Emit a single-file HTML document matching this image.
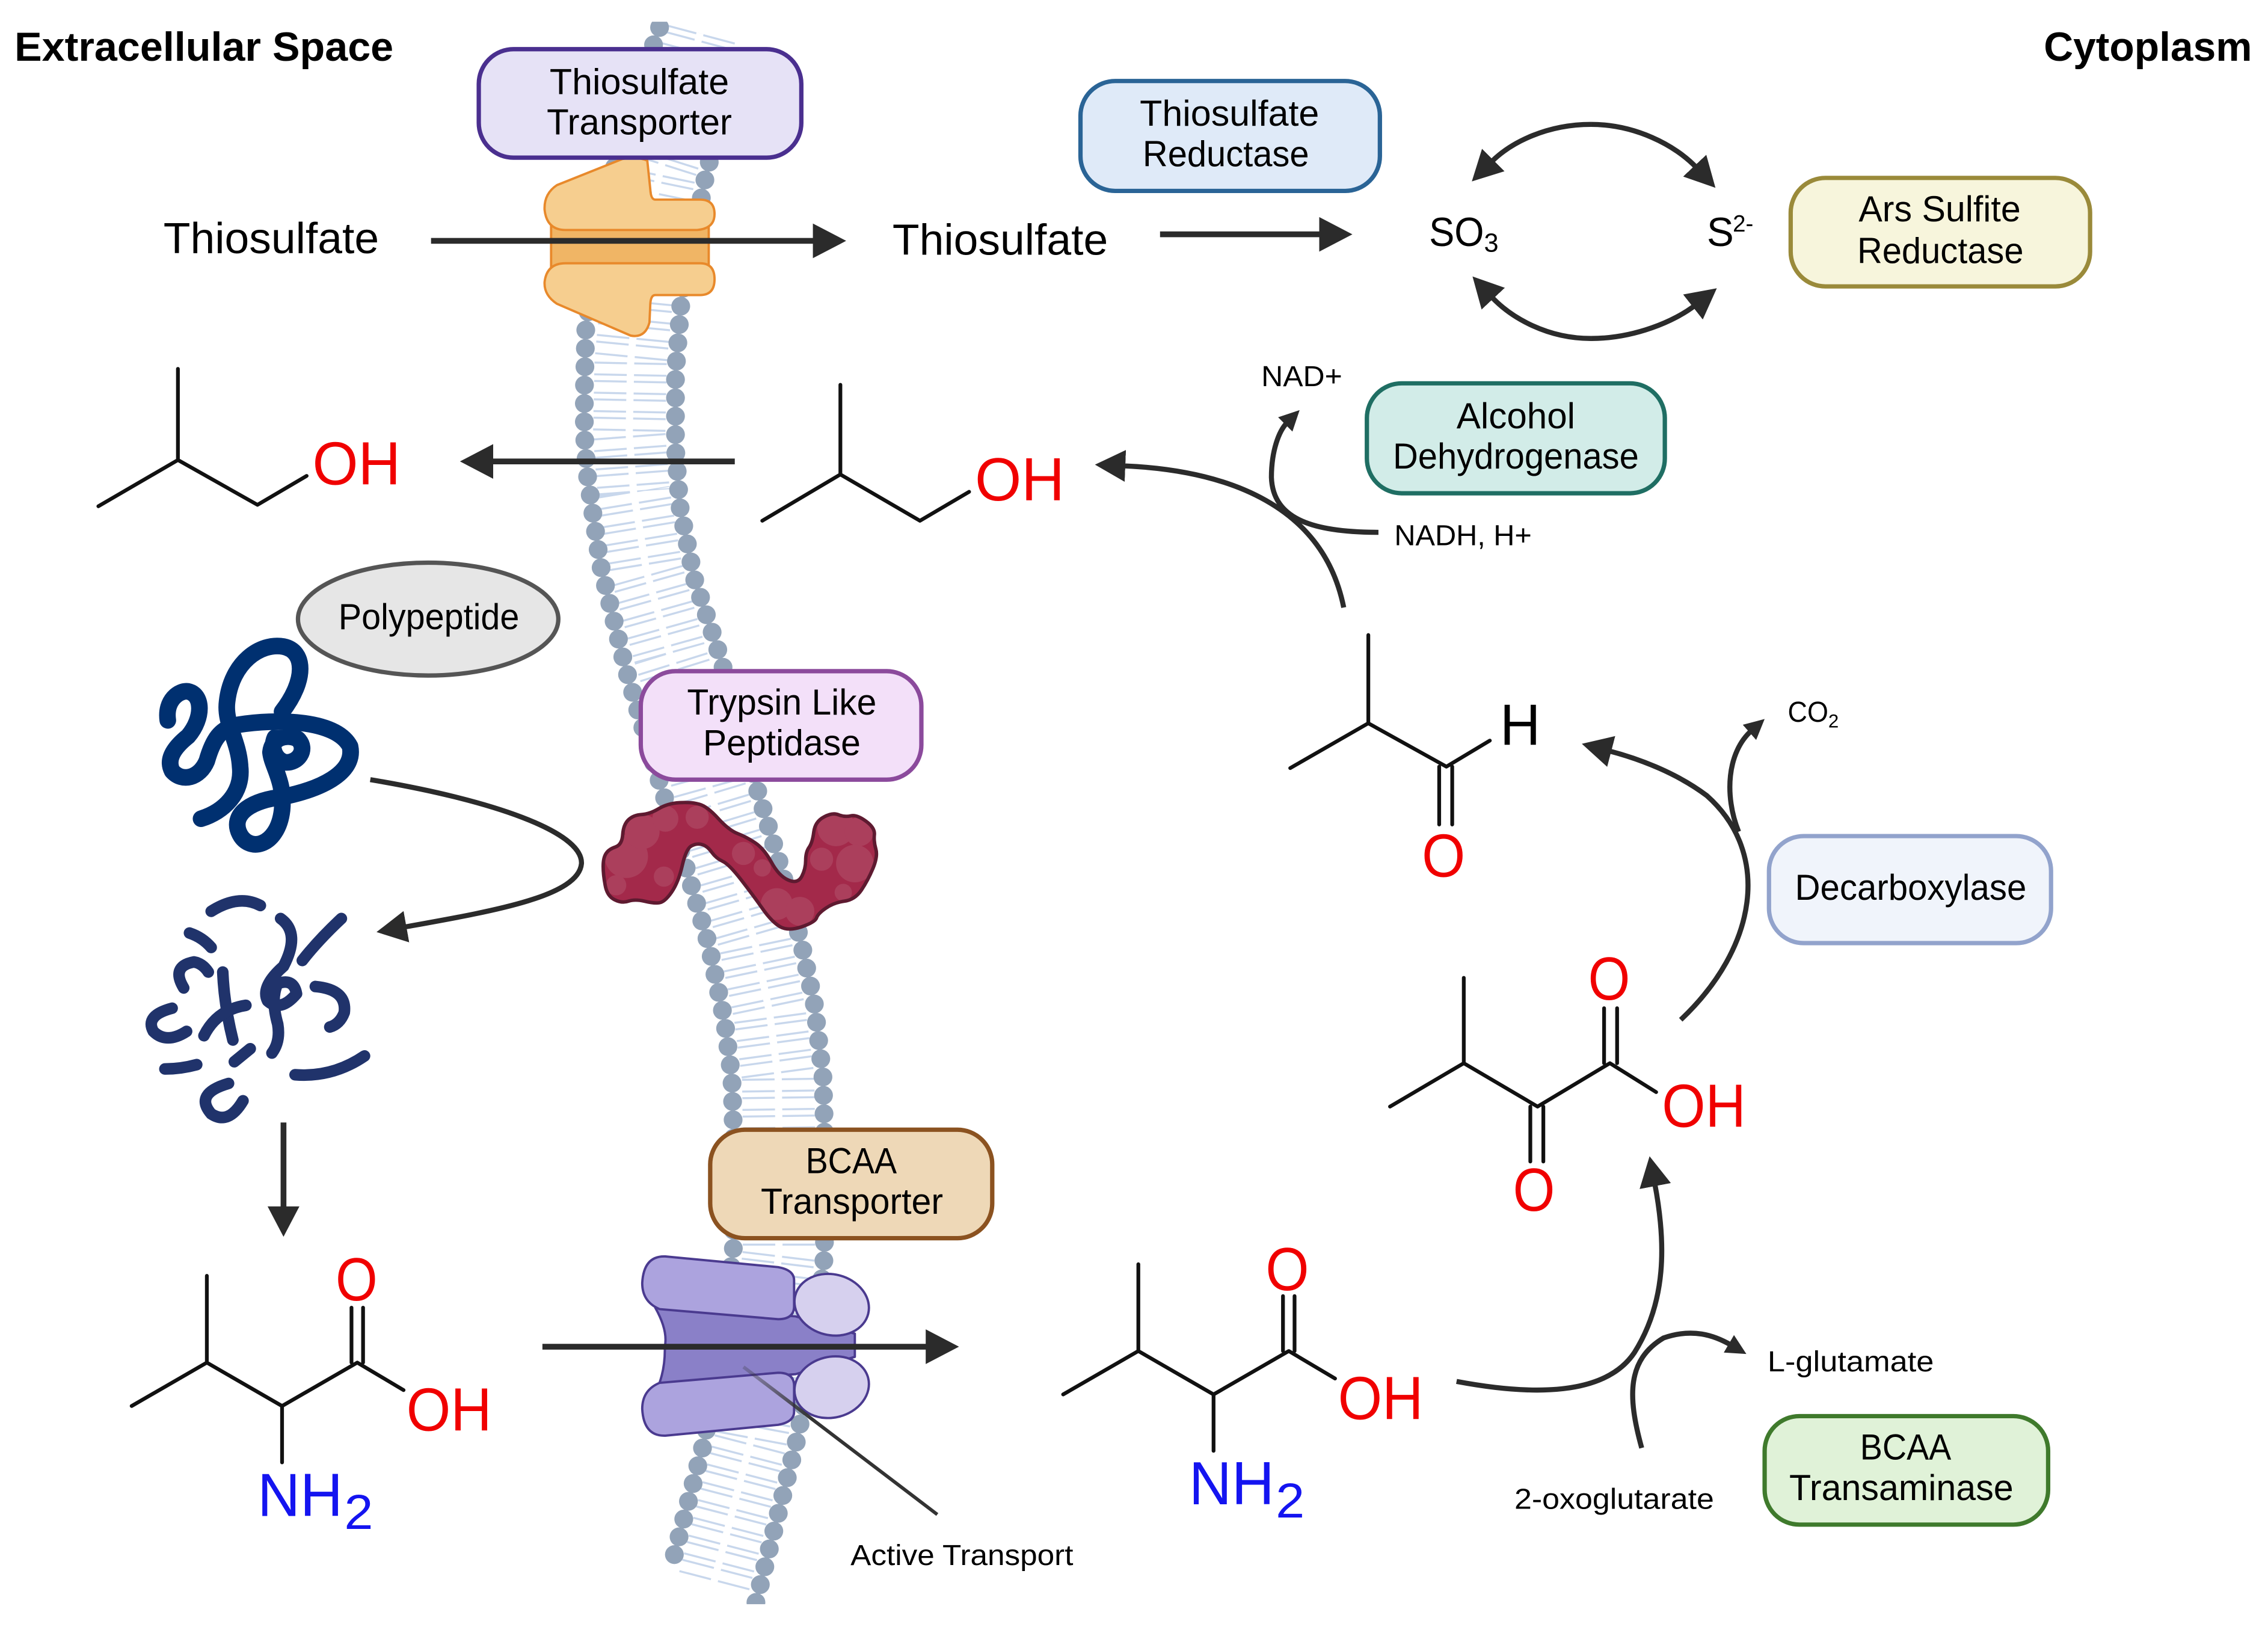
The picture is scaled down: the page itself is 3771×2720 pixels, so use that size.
<!DOCTYPE html>
<html><head><meta charset="utf-8"><title>Pathway diagram</title>
<style>
html,body{margin:0;padding:0;background:#fff}
svg{display:block}
text{font-family:"Liberation Sans",sans-serif;fill:#000}
.lb{font-size:25px;text-anchor:start}
.s{stroke:#111;stroke-width:2.6;fill:none;stroke-linecap:round;stroke-linejoin:round}
.ar{stroke:#2b2b2b;stroke-width:4;fill:none}
.sm{stroke:#2b2b2b;stroke-width:3.5;fill:none}
.r{fill:#f00000;font-size:42px}
.b{fill:#1414f0;font-size:42px}
.c{fill:none;stroke:#003070;stroke-width:11.5;stroke-linecap:round;stroke-linejoin:round}
.f{fill:none;stroke:#20336b;stroke-width:8;stroke-linecap:round;stroke-linejoin:round}
</style></head><body>
<svg xmlns="http://www.w3.org/2000/svg" width="3771" height="2720" viewBox="0 0 1568 1131">
<defs>
<marker id="a" markerWidth="26" markerHeight="28" refX="2" refY="13" orient="auto" markerUnits="userSpaceOnUse"><path d="M0,1L23,13L0,25z" fill="#2b2b2b"/></marker>
<marker id="m" markerWidth="24" markerHeight="24" refX="2" refY="11" orient="auto" markerUnits="userSpaceOnUse"><path d="M0,0L21,11L0,22z" fill="#2b2b2b"/></marker>
<marker id="n" markerWidth="18" markerHeight="18" refX="2" refY="8" orient="auto" markerUnits="userSpaceOnUse"><path d="M0,1L14,8L0,15z" fill="#2b2b2b"/></marker>
<clipPath id="mc"><rect x="380" y="15" width="230" height="1094"/></clipPath>
<clipPath id="bl"><path d="M417,598.9Q417,593 419,590Q421,587 425.5,585.5Q430,584 430.5,577Q431,570 434.5,566.7Q438,563.4 443.5,563.1Q449,562.8 455.3,559.1Q461.5,555.4 469.8,554.9Q478,554.4 483.5,556Q489,557.5 496.5,565.8Q504,574 510,576.3Q516,578.6 522,582.6Q528,586.5 533.3,596Q538.5,605.6 545,608.4Q551.5,611.2 554.3,605.9Q557,600.6 557,594.8Q557,589 559.4,585.7Q561.7,582.4 562.6,575.2Q563.5,568 569.6,564.8Q575.6,561.5 579.8,563.3Q584,565 588.2,564Q592.3,563 598.7,567.7Q605,572.3 604.5,577Q604,581.7 605.5,586.9Q607,592 603.5,600.4Q600,608.7 595.5,615.4Q591,622 583.8,623Q576.5,624 571,627.8Q565.4,631.6 564.5,634.6Q563.5,637.5 554.3,640.7Q545,643.8 539.4,640.7Q533.8,637.5 527.4,628.5Q521,619.4 512.5,608.4Q504,597.4 499.5,595.4Q495,593.3 492,589.1Q489,584.9 485.5,583.9Q482,582.8 478.2,584.7Q474.4,586.5 471.7,598.3Q469,610 464.3,616.8Q459.6,623.6 455.8,624.1Q452,624.6 445.5,623Q439,621.5 434.5,623Q430,624.6 424.9,622Q419.7,619.4 418.4,612Q417,604.7 417,598.9Z"/></clipPath>
<linearGradient id="lg" gradientUnits="userSpaceOnUse" x1="514" y1="945" x2="560" y2="982"><stop offset="0" stop-color="#333" stop-opacity=".25"/><stop offset="1" stop-color="#333"/></linearGradient>
</defs>

<!-- membrane -->
<g clip-path="url(#mc)" fill="none">
<polyline points="484,23 472,68 457,115 442,188 436,250 435,300 438,340 447,395 463,452 478,500 491,547 507,600 522,652 532,700 538,745 538.5,780 538.5,866 530,937 519,996 493,1096" stroke="#c8d7ec" stroke-width="50" stroke-dasharray="1.4 3.2 1.4 6.7"/>
<polyline points="484,23 472,68 457,115 442,188 436,250 435,300 438,340 447,395 463,452 478,500 491,547 507,600 522,652 532,700 538,745 538.5,780 538.5,866 530,937 519,996 493,1096" stroke="#fff" stroke-width="5"/>
<polyline points="456,19 440,65 425,115 413,170 405,227 404,270 404,300 406,328 415,390 432,460 445,505 459,550 475,602 490,653 501,706 506,745 507,780 507,864 498,935 487,996 463,1087" stroke="#92a3b8" stroke-width="13" stroke-linecap="round" stroke-dasharray="0 12.7"/>
<polyline points="515,40 505,70 489,116 471,207 467,258 467,284 467,310 470,350 480,400 495,445 510,495 523,544 539,597 554,652 563,694 569,745 570,780 570,868 562,940 551,995 523,1106 520,1120" stroke="#92a3b8" stroke-width="13" stroke-linecap="round" stroke-dasharray="0 12.7"/>
</g>

<!-- orange transporter -->
<g stroke="#e8892b" stroke-width="1.6" stroke-linejoin="round">
<rect x="381" y="150" width="109" height="38" fill="#f0b565"/>
<path d="M447.5,111 Q440,108 430,110 L385,128 Q376,134 376.5,145 Q378,159 391,159 L482,159 Q494,158 494,148 Q494,138 484,138 L453,138 Q450,138 449.6,131 Z" fill="#f6ce8f"/>
<path d="M391,182 L484,182 Q494,182 494,193 Q494,204 484,204 L453,204 Q450,204 449.6,210 L449,223 Q446,234 436,232 L385,210 Q376,204 376.5,195 Q378,182 391,182 Z" fill="#f6ce8f"/>
</g>

<!-- purple transporter -->
<g stroke="#4a3a8f" stroke-width="1.6" stroke-linejoin="round">
<path d="M453,904 Q462,920 459.6,931 Q460,945 455.6,957 L550,950 L591,938 L591,922 L550,910 Z" fill="#8a80c8"/>
<path d="M460,868.6 L538,876 Q549,878 549,885 L549,903 Q549,912 538,912 L456,905 Q444,900 444,887 Q445,868 460,868.6 Z" fill="#aca3de"/>
<path d="M460,992.5 L538,985 Q549,983 549,976 L549,958 Q549,949 538,949 L456,956 Q444,961 444,974 Q445,993 460,992.5 Z" fill="#aca3de"/>
<ellipse cx="575" cy="902" rx="26" ry="21" transform="rotate(14 575 902)" fill="#d6d0ee"/>
<ellipse cx="575" cy="959" rx="26" ry="21" transform="rotate(-14 575 959)" fill="#d6d0ee"/>
</g>

<!-- trypsin blob -->
<g clip-path="url(#bl)">
<rect x="410" y="548" width="205" height="100" fill="#a3294a"/>
<g fill="#ab3f5c">
<circle cx="433" cy="592" r="15"/><circle cx="444" cy="575" r="12"/><circle cx="460" cy="566" r="9"/><circle cx="482" cy="565" r="8"/><circle cx="459" cy="606" r="7"/><circle cx="426" cy="612" r="7"/><circle cx="514" cy="590" r="8"/><circle cx="527" cy="600" r="6"/><circle cx="537" cy="625" r="11"/><circle cx="553" cy="630" r="10"/><circle cx="578" cy="572" r="13"/><circle cx="594" cy="575" r="10"/><circle cx="591" cy="597" r="13"/><circle cx="568" cy="594" r="8"/><circle cx="583" cy="617" r="6"/>
</g>
</g>
<path d="M417,598.9Q417,593 419,590Q421,587 425.5,585.5Q430,584 430.5,577Q431,570 434.5,566.7Q438,563.4 443.5,563.1Q449,562.8 455.3,559.1Q461.5,555.4 469.8,554.9Q478,554.4 483.5,556Q489,557.5 496.5,565.8Q504,574 510,576.3Q516,578.6 522,582.6Q528,586.5 533.3,596Q538.5,605.6 545,608.4Q551.5,611.2 554.3,605.9Q557,600.6 557,594.8Q557,589 559.4,585.7Q561.7,582.4 562.6,575.2Q563.5,568 569.6,564.8Q575.6,561.5 579.8,563.3Q584,565 588.2,564Q592.3,563 598.7,567.7Q605,572.3 604.5,577Q604,581.7 605.5,586.9Q607,592 603.5,600.4Q600,608.7 595.5,615.4Q591,622 583.8,623Q576.5,624 571,627.8Q565.4,631.6 564.5,634.6Q563.5,637.5 554.3,640.7Q545,643.8 539.4,640.7Q533.8,637.5 527.4,628.5Q521,619.4 512.5,608.4Q504,597.4 499.5,595.4Q495,593.3 492,589.1Q489,584.9 485.5,583.9Q482,582.8 478.2,584.7Q474.4,586.5 471.7,598.3Q469,610 464.3,616.8Q459.6,623.6 455.8,624.1Q452,624.6 445.5,623Q439,621.5 434.5,623Q430,624.6 424.9,622Q419.7,619.4 418.4,612Q417,604.7 417,598.9Z" fill="none" stroke="#5e1a30" stroke-width="2.4" stroke-linejoin="round"/>

<!-- intact polypeptide -->
<path class="c" d="M139,566 C155,561 168,548 166,530 C165,512 155,500 157,485 C160,458 180,444 196,447 C211,450 212,470 195,492"/>
<path class="c" d="M116,498 C114,484 124,477 130,478 C140,480 141,496 130,509 C120,517 115,525 119,533 C126,541 138,538 143,526 C147,512 152,503 165,501 C190,497 232,497 242,516 C246,535 220,546 195,551 C175,553 160,562 165,575 C171,590 192,586 195,560 C197,540 188,530 187,520 C188,510 198,507 206,511 C213,518 206,528 197,527 C190,525 187,517 190,510"/>

<!-- fragments -->
<path class="f" d="M146,630 Q165,618 180,626"/>
<path class="f" d="M131,645 Q140,648 146,655" stroke-width="6.5"/>
<path class="f" d="M127,683 Q118,668 134,665 Q140,666 144,672"/>
<path class="f" d="M119,697 Q100,702 106,713 Q115,722 129,713"/>
<path class="f" d="M154,672 Q155,695 161,719"/>
<path class="f" d="M141,716 Q150,698 170,695"/>
<path class="f" d="M114,739 Q125,739 136,736" stroke-width="6.5"/>
<path class="f" d="M162,734 L173,725" stroke-width="6.5"/>
<path class="f" d="M158,749 Q134,756 146,770 Q158,778 168,761"/>
<path class="f" d="M194,635 Q208,645 196,668 Q180,682 185,692 Q194,700 205,687 Q203,676 192,680 Q187,690 192,708 Q194,720 188,728" stroke-width="8.5"/>
<path class="f" d="M209,664 Q220,650 236,635"/>
<path class="f" d="M218,682 Q240,684 238,700 Q235,708 228,710"/>
<path class="f" d="M204,743 Q230,745 252,730"/>

<!-- straight arrows -->
<path class="ar" d="M298,166.5H564" marker-end="url(#a)"/>
<path class="ar" d="M802,162H914" marker-end="url(#a)"/>
<path class="ar" d="M508,319H339" marker-end="url(#a)"/>
<path class="ar" d="M196,776V836" stroke-width="3.5" marker-end="url(#m)"/>
<path class="ar" d="M375,931H642" marker-end="url(#a)"/>
<path d="M514,945L648,1047" stroke="url(#lg)" stroke-width="2.4" fill="none"/>

<!-- redox cycle arrows -->
<path class="sm" d="M1100,86 C1070,86 1045,98 1031,112" marker-end="url(#m)"/>
<path class="sm" d="M1100,86 C1130,86 1158,100 1173,116" marker-end="url(#m)"/>
<path class="sm" d="M1100,234 C1070,234 1045,220 1031,205" marker-end="url(#m)"/>
<path class="sm" d="M1100,234 C1130,234 1158,222 1172,211" marker-end="url(#m)"/>

<!-- curved arrows -->
<path class="sm" d="M929,420 C915,350 850,325 776,322" marker-end="url(#m)"/>
<path class="sm" d="M953,368 C910,368 880,360 879,330 C879,312 884,298 890,292" marker-end="url(#n)"/>
<path class="sm" d="M1162,705 C1215,655 1225,590 1180,550 C1160,535 1135,525 1112,519" marker-end="url(#m)"/>
<path class="sm" d="M1202,575 C1192,550 1194,520 1211,505" marker-end="url(#n)"/>
<path class="sm" d="M1007,955 C1060,965 1110,965 1130,935 C1152,900 1152,860 1144,818" marker-end="url(#m)"/>
<path class="sm" d="M1135,1001 C1125,965 1125,940 1150,925 C1170,918 1185,923 1197,930" marker-end="url(#n)"/>
<path class="sm" d="M256,539 C340,553 403,575 402,597 C400,620 340,630 279,641" marker-end="url(#m)"/>

<!-- boxes -->
<rect x="331" y="34" width="223" height="75" rx="24" fill="#e6e2f6" stroke="#4a2f8f" stroke-width="3"/>
<text class="lb" x="380" y="65" textLength="124" lengthAdjust="spacingAndGlyphs">Thiosulfate</text>
<text class="lb" x="378" y="93" textLength="128" lengthAdjust="spacingAndGlyphs">Transporter</text>

<rect x="747" y="56" width="207" height="76" rx="24" fill="#dfeaf8" stroke="#2a6496" stroke-width="3"/>
<text class="lb" x="788" y="87" textLength="124" lengthAdjust="spacingAndGlyphs">Thiosulfate</text>
<text class="lb" x="790" y="115" textLength="115" lengthAdjust="spacingAndGlyphs">Reductase</text>

<rect x="1238" y="123" width="207" height="75" rx="24" fill="#f7f5dc" stroke="#9a8a3a" stroke-width="3"/>
<text class="lb" x="1285" y="153" textLength="112" lengthAdjust="spacingAndGlyphs">Ars Sulfite</text>
<text class="lb" x="1284" y="182" textLength="115" lengthAdjust="spacingAndGlyphs">Reductase</text>

<rect x="945" y="265" width="206" height="76" rx="24" fill="#d2ece8" stroke="#1f6e63" stroke-width="3"/>
<text class="lb" x="1007" y="296" textLength="82" lengthAdjust="spacingAndGlyphs">Alcohol</text>
<text class="lb" x="963" y="324" textLength="170" lengthAdjust="spacingAndGlyphs">Dehydrogenase</text>

<ellipse cx="296" cy="428" rx="90" ry="39" fill="#e6e6e6" stroke="#555" stroke-width="3"/>
<text class="lb" x="234" y="435" textLength="125" lengthAdjust="spacingAndGlyphs">Polypeptide</text>

<rect x="443" y="464" width="194" height="75" rx="24" fill="#f3e0f9" stroke="#8b4a9c" stroke-width="3"/>
<text class="lb" x="475" y="494" textLength="131" lengthAdjust="spacingAndGlyphs">Trypsin Like</text>
<text class="lb" x="486" y="522" textLength="109" lengthAdjust="spacingAndGlyphs">Peptidase</text>

<rect x="1223" y="578" width="195" height="74" rx="24" fill="#f0f4fb" stroke="#92a3cc" stroke-width="3"/>
<text class="lb" x="1241" y="622" textLength="160" lengthAdjust="spacingAndGlyphs">Decarboxylase</text>

<rect x="491" y="781" width="195" height="75" rx="24" fill="#eed8b7" stroke="#8b5220" stroke-width="3"/>
<text class="lb" x="557" y="811" textLength="63" lengthAdjust="spacingAndGlyphs">BCAA</text>
<text class="lb" x="526" y="839" textLength="126" lengthAdjust="spacingAndGlyphs">Transporter</text>

<rect x="1220" y="979" width="196" height="75" rx="24" fill="#e0f2d8" stroke="#3f7a2c" stroke-width="3"/>
<text class="lb" x="1286" y="1009" textLength="63" lengthAdjust="spacingAndGlyphs">BCAA</text>
<text class="lb" x="1237" y="1037" textLength="155" lengthAdjust="spacingAndGlyphs">Transaminase</text>

<!-- labels -->
<text x="10" y="42" font-size="28" font-weight="700" textLength="262" lengthAdjust="spacingAndGlyphs">Extracellular Space</text>
<text x="1413" y="42" font-size="28" font-weight="700" textLength="144" lengthAdjust="spacingAndGlyphs">Cytoplasm</text>
<text x="113" y="175" font-size="30" textLength="149" lengthAdjust="spacingAndGlyphs">Thiosulfate</text>
<text x="617" y="176" font-size="30" textLength="149" lengthAdjust="spacingAndGlyphs">Thiosulfate</text>
<text x="988" y="170" font-size="28" textLength="38" lengthAdjust="spacingAndGlyphs">SO</text>
<text x="1026" y="174" font-size="18">3</text>
<text x="1180" y="170" font-size="28">S</text>
<text x="1198" y="160" font-size="16">2-</text>
<text x="872" y="267" font-size="20" textLength="56" lengthAdjust="spacingAndGlyphs">NAD+</text>
<text x="964" y="377" font-size="20" textLength="95" lengthAdjust="spacingAndGlyphs">NADH, H+</text>
<text x="1236" y="499" font-size="20" textLength="28" lengthAdjust="spacingAndGlyphs">CO</text>
<text x="1264" y="503" font-size="13">2</text>
<text x="1222" y="948" font-size="20" textLength="115" lengthAdjust="spacingAndGlyphs">L-glutamate</text>
<text x="1047" y="1043" font-size="20" textLength="138" lengthAdjust="spacingAndGlyphs">2-oxoglutarate</text>
<text x="588" y="1082" font-size="20" textLength="154" lengthAdjust="spacingAndGlyphs">Active Transport</text>

<!-- isobutanol left -->
<path class="s" d="M123,255V318M68,350L123,318L178,349L212,329"/>
<text class="r" x="216" y="335" textLength="61" lengthAdjust="spacingAndGlyphs">OH</text>
<!-- isobutanol right -->
<path class="s" d="M581,266V328M527,360L581,328L636,360L670,340"/>
<text class="r" x="674" y="346" textLength="62" lengthAdjust="spacingAndGlyphs">OH</text>
<!-- isobutanal -->
<path class="s" d="M946,439V500M892,531L946,500L1000,530L1030,512M995,530V570M1004,530V570"/>
<text x="1037" y="515" font-size="40" textLength="28" lengthAdjust="spacingAndGlyphs">H</text>
<text class="r" x="983" y="606" textLength="30" lengthAdjust="spacingAndGlyphs">O</text>
<!-- keto acid -->
<path class="s" d="M1012,676V735M961,765L1012,735L1063,765L1113,735L1145,755M1109,735V697M1118,735V697M1058,765V803M1067,765V803"/>
<text class="r" x="1098" y="691" textLength="29" lengthAdjust="spacingAndGlyphs">O</text>
<text class="r" x="1149" y="779" textLength="58" lengthAdjust="spacingAndGlyphs">OH</text>
<text class="r" x="1046" y="837" textLength="29" lengthAdjust="spacingAndGlyphs">O</text>
<!-- valine left -->
<path class="s" d="M143,882V942M91,972L143,942L195,972L247,942L279,961M243,942V904M251,942V904M195,972V1011"/>
<text class="r" x="232" y="899" textLength="29" lengthAdjust="spacingAndGlyphs">O</text>
<text class="r" x="281" y="989" textLength="59" lengthAdjust="spacingAndGlyphs">OH</text>
<text class="b" x="178" y="1048" textLength="59" lengthAdjust="spacingAndGlyphs">NH</text>
<text class="b" x="238" y="1057" style="font-size:34px" textLength="20" lengthAdjust="spacingAndGlyphs">2</text>
<!-- valine right -->
<path class="s" d="M787,874V934M735,964L787,934L839,964L891,934L923,953M887,934V896M895,934V896M839,964V1003"/>
<text class="r" x="875" y="892" textLength="30" lengthAdjust="spacingAndGlyphs">O</text>
<text class="r" x="925" y="981" textLength="59" lengthAdjust="spacingAndGlyphs">OH</text>
<text class="b" x="822" y="1040" textLength="59" lengthAdjust="spacingAndGlyphs">NH</text>
<text class="b" x="882" y="1049" style="font-size:34px" textLength="20" lengthAdjust="spacingAndGlyphs">2</text>
</svg>
</body></html>
